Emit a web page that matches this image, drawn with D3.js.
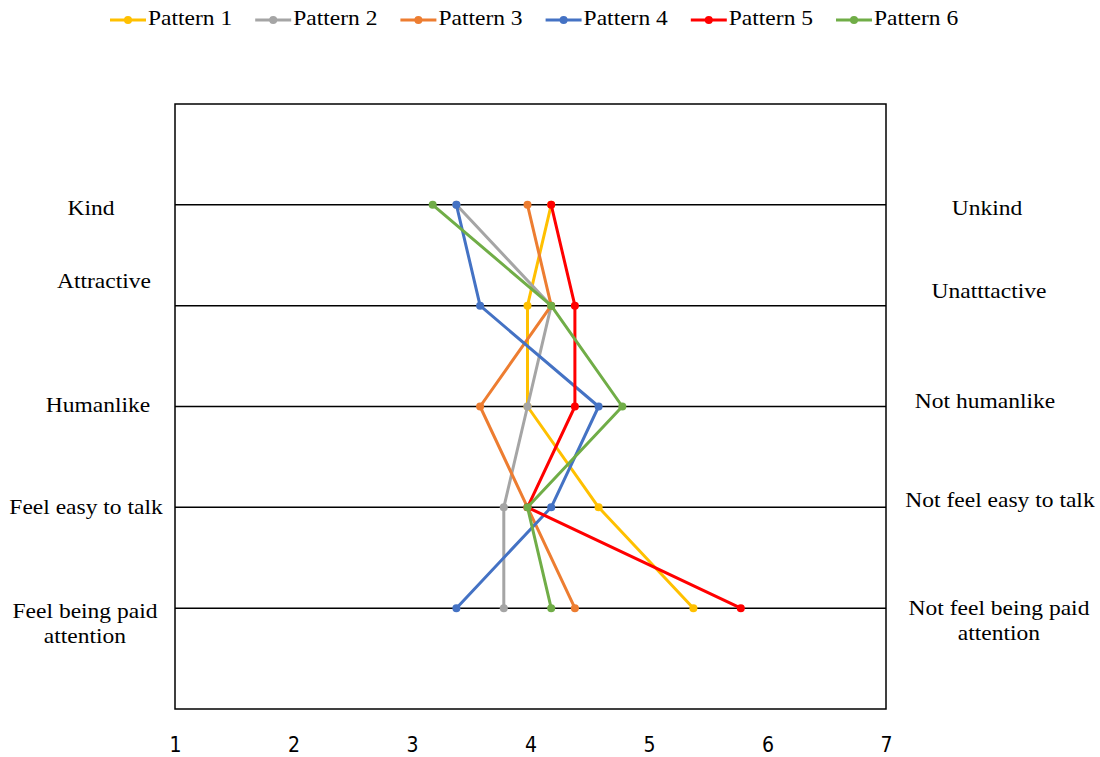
<!DOCTYPE html>
<html>
<head>
<meta charset="utf-8">
<script src="https://cdn.jsdelivr.net/npm/d3@7"></script>
<style>
  html, body { margin: 0; padding: 0; background: #fff; }
  svg { display: block; }
</style>
</head>
<body>
<svg id="chart" width="1100" height="757"></svg>
<script>
// Semantic differential items: positive pole (left) and negative pole (right)
const leftLabels = ["Kind", "Attractive", "Humanlike", "Feel easy to talk", "Feel being paid attention"];
const rightLabels = ["Unkind", "Unatttactive", "Not humanlike", "Not feel easy to talk", "Not feel being paid attention"];
const seriesNames = ["Pattern 1", "Pattern 2", "Pattern 3", "Pattern 4", "Pattern 5", "Pattern 6"];
const seriesColors = ["#FFC000", "#A5A5A5", "#ED7D31", "#4472C4", "#FF0000", "#70AD47"];
const xTicks = [1, 2, 3, 4, 5, 6, 7];

// Mean rating per item, one array per pattern
const pattern1 = [4.2, 4.0, 4.0, 4.6, 5.4];
const pattern2 = [3.4, 4.2, 4.0, 3.8, 3.8];
const pattern3 = [4.0, 4.2, 3.6, 4.0, 4.4];
const pattern4 = [3.4, 3.6, 4.6, 4.2, 3.4];
const pattern5 = [4.2, 4.4, 4.4, 4.0, 5.8];
const pattern6 = [3.2, 4.2, 4.8, 4.0, 4.2];
const seriesValues = [pattern1, pattern2, pattern3, pattern4, pattern5, pattern6];

const svg = d3.select("#chart");
const plot = { left: 175, right: 886, top: 104, bottom: 709 };

// Scale for the scale labels under the frame
const xAxisScale = d3.scaleLinear().domain([1, 7]).range([plot.left, plot.right]);
// Scale for the profiles (sits a touch left of the frame)
const x = d3.scaleLinear().domain([1, 7]).range([plot.left - 3, plot.right - 3]);
// Items sit at positions 1..5 inside a 0..6 vertical span
const y = d3.scaleLinear().domain([0, 6]).range([plot.top, plot.bottom]);

const serif = "'Liberation Serif', 'Times New Roman', serif";
const textSize = 21;
const textStretch = 1.12; // text is set slightly wide

// Item rows
svg.append("g")
  .selectAll("line")
  .data(leftLabels)
  .join("line")
  .attr("x1", plot.left).attr("x2", plot.right)
  .attr("y1", (d, i) => y(i + 1)).attr("y2", (d, i) => y(i + 1))
  .attr("stroke", "#000").attr("stroke-width", 1.5);

// Plot frame
svg.append("rect")
  .attr("x", plot.left).attr("y", plot.top)
  .attr("width", plot.right - plot.left).attr("height", plot.bottom - plot.top)
  .attr("fill", "none").attr("stroke", "#000").attr("stroke-width", 1.5);

// Bottom scale labels
const xAxis = d3.axisBottom(xAxisScale).tickValues(xTicks).tickSize(0).tickPadding(0).tickFormat(d3.format("d"));
const axisG = svg.append("g").attr("transform", `translate(0, ${plot.bottom + 28})`).call(xAxis);
axisG.select(".domain").remove();
axisG.selectAll("text")
  .attr("font-family", "'DejaVu Sans Condensed', 'Liberation Sans', sans-serif")
  .attr("font-size", 21).attr("fill", "#000");

// Pole labels (position tweaks per label)
const leftPos = [
  { cx: 91, cy: 210 }, { cx: 104, cy: 283 }, { cx: 98, cy: 407 },
  { cx: 86, cy: 509 }, { cx: 85, cy: 613 }
];
const rightPos = [
  { cx: 987, cy: 210 }, { cx: 989, cy: 293 }, { cx: 985, cy: 403 },
  { cx: 1000, cy: 502 }, { cx: 999, cy: 610 }
];
const wrapTwo = { "Feel being paid attention": ["Feel being paid", "attention"],
                  "Not feel being paid attention": ["Not feel being paid", "attention"] };

function drawLabels(labels, pos) {
  labels.forEach((lab, i) => {
    const lines = wrapTwo[lab] || [lab];
    const t = svg.append("text")
      .attr("transform", `translate(${pos[i].cx}, ${pos[i].cy}) scale(${textStretch}, 1)`)
      .attr("text-anchor", "middle").attr("dominant-baseline", "middle")
      .attr("font-family", serif).attr("font-size", textSize).attr("fill", "#000");
    lines.forEach((ln, k) => {
      t.append("tspan").attr("x", 0).attr("dy", k === 0 ? 0 : 25).text(ln);
    });
  });
}
drawLabels(leftLabels, leftPos);
drawLabels(rightLabels, rightPos);

// Pattern profiles
const line = d3.line().x(d => x(d.v)).y(d => y(d.i + 1));
seriesValues.forEach((vals, s) => {
  const pts = vals.map((v, i) => ({ v, i }));
  const g = svg.append("g");
  g.append("path").datum(pts)
    .attr("d", line).attr("fill", "none")
    .attr("stroke", seriesColors[s]).attr("stroke-width", 3)
    .attr("stroke-linejoin", "round");
  g.selectAll("circle").data(pts).join("circle")
    .attr("cx", d => x(d.v)).attr("cy", d => y(d.i + 1)).attr("r", 4)
    .attr("fill", seriesColors[s]);
});

// Legend
const legend = svg.append("g");
seriesNames.forEach((name, s) => {
  const x0 = 110 + s * 145.2;
  const item = legend.append("g").attr("transform", `translate(${x0}, 20)`);
  item.append("line").attr("x1", 0).attr("x2", 36).attr("y1", 0).attr("y2", 0)
    .attr("stroke", seriesColors[s]).attr("stroke-width", 3);
  item.append("circle").attr("cx", 18).attr("cy", 0).attr("r", 4).attr("fill", seriesColors[s]);
  item.append("text").attr("transform", `translate(38, 0) scale(${textStretch}, 1)`)
    .attr("dominant-baseline", "middle")
    .attr("font-family", serif).attr("font-size", textSize).attr("fill", "#000")
    .text(name);
});
</script>
</body>
</html>
